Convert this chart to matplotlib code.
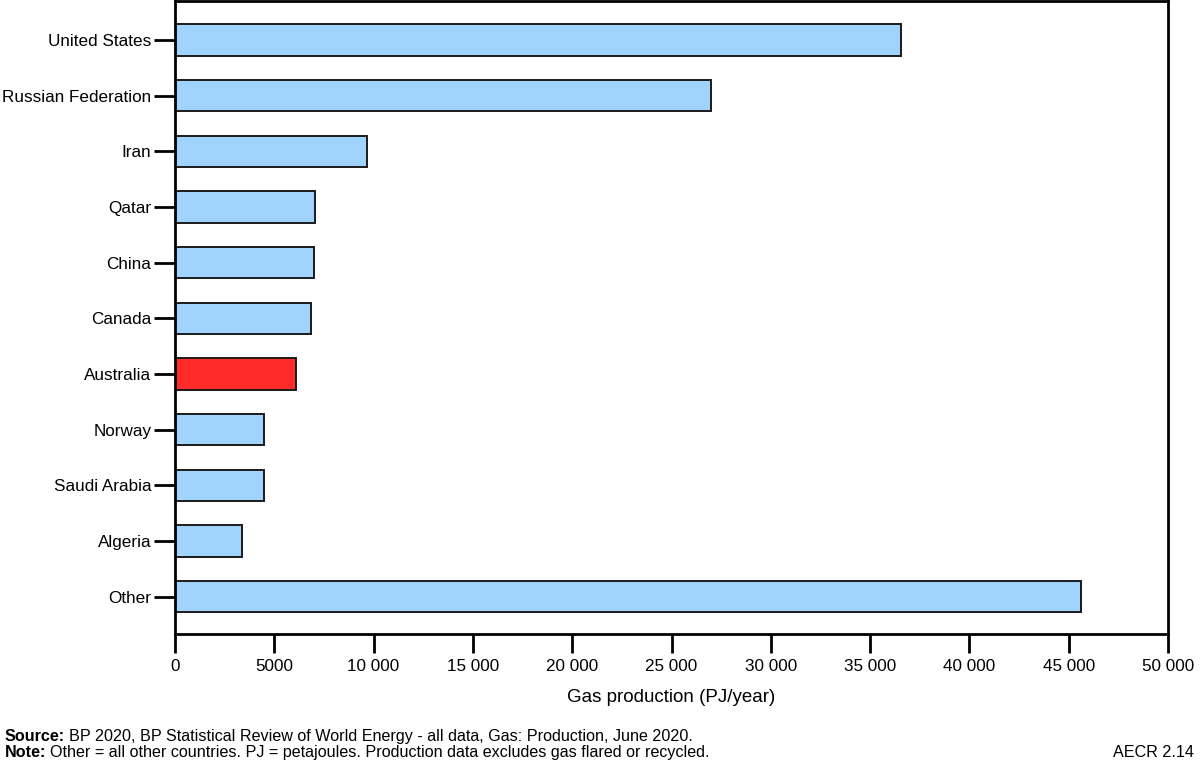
import matplotlib
matplotlib.use("Agg")
import matplotlib.pyplot as plt
from matplotlib.ticker import FuncFormatter

countries = ["United States", "Russian Federation", "Iran", "Qatar", "China", "Canada",
             "Australia", "Norway", "Saudi Arabia", "Algeria", "Other"]
production = [36560, 27000, 9670, 7050, 7000, 6860, 6100, 4500, 4480, 3380, 45620]
highlight = "Australia"

plt.rcParams['font.family'] = ['Liberation Sans', 'DejaVu Sans']

fig = plt.figure(figsize=(12, 7.68), dpi=100)
ax = fig.add_axes([175/1200, 1 - 634/768, (1168-175)/1200, (634-1)/768])

colors = ['#FF2A2A' if c == highlight else '#A0D4FF' for c in countries]
y = list(range(len(countries)))
ax.barh(y, production, height=0.56, color=colors, edgecolor='#1a1a1a', linewidth=1.4)

ax.set_yticks(y)
ax.set_yticklabels(countries, fontsize=12.3)
ax.set_ylim(10.67, -0.7)
ax.set_xlim(0, 50000)
ax.set_xticks(range(0, 50001, 5000))

def fmt(v, pos):
    v = int(round(v))
    if v >= 10000:
        return f"{v:,}".replace(",", " ")
    return str(v)

ax.xaxis.set_major_formatter(FuncFormatter(fmt))
ax.tick_params(axis='x', labelsize=12.3, length=14, width=2, direction='out', pad=4)
ax.tick_params(axis='y', length=15, width=2, direction='out', pad=2)
for s in ax.spines.values():
    s.set_linewidth(2)
ax.set_xlabel("Gas production (PJ/year)", fontsize=13.5, labelpad=11)

fig.canvas.draw()
renderer = fig.canvas.get_renderer()

FS = 11.6

def footer(bold, rest, ypix):
    t = fig.text(5/1200, 1 - ypix/768, bold, fontsize=FS, fontweight='bold',
                 va='baseline', ha='left')
    bb = t.get_window_extent(renderer=renderer)
    fig.text(bb.x1/1200 + 4/1200, 1 - ypix/768, rest, fontsize=FS, va='baseline', ha='left')

footer("Source:", "BP 2020, BP Statistical Review of World Energy - all data, Gas: Production, June 2020.", 741)
footer("Note:", "Other = all other countries. PJ = petajoules. Production data excludes gas flared or recycled.", 757)
fig.text(1194/1200, 1 - 757/768, "AECR 2.14", fontsize=FS, va='baseline', ha='right')

fig.savefig("out.png", dpi=100)
